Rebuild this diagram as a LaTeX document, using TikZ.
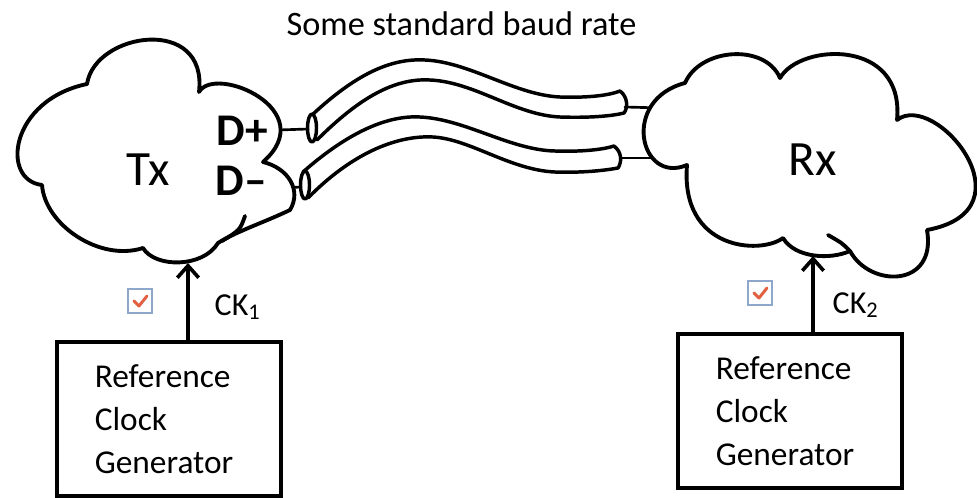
\documentclass[tikz,border=0pt]{standalone}
\usepackage{fontspec}
\setmainfont{Carlito}
\usetikzlibrary{arrows.meta}
\definecolor{chkblue}{HTML}{8EA8CC}
\definecolor{chkred}{HTML}{E2603F}
\tikzset{
  ink/.style={line width=2.9pt,line cap=round,line join=round},
  cloudline/.style={ink,fill=white},
  cable/.style={ink,line width=2.6pt},
  wire/.style={line width=2pt,line cap=round},
  refbox/.style={draw,line width=2.7pt,minimum width=168pt,minimum height=115.5pt,
    inner xsep=0pt,text width=111pt,align=left,font=\fontsize{25}{32.25}\selectfont},
  clk/.style={-{Straight Barb[length=9pt,width=16pt]},line width=2.7pt},
  chkbox/.style={draw=chkblue,fill=white,line width=0.9pt,minimum size=18pt,inner sep=0pt},
  tick/.style={draw=chkred,line width=2.2pt,line cap=round,line join=round},
  lbl/.style={font=\fontsize{24}{28}\selectfont,anchor=base west},
  dlbl/.style={font=\fontsize{34}{38}\selectfont\bfseries,anchor=base west},
}
\begin{document}
\begin{tikzpicture}[x=0.75pt,y=-0.75pt]
\useasboundingbox (0,0) rectangle (977,497);

% wire ends
\coordinate (dpin) at (278,130);  \coordinate (dpend) at (308,129);
\coordinate (dmin) at (285,188);  \coordinate (dmend) at (300,187);
\coordinate (rpin) at (625,107);  \coordinate (rpend) at (662,108);
\coordinate (rmin) at (620,158);  \coordinate (rmend) at (660,158);
\draw[wire] (dpin) -- (dpend);
\draw[wire] (dmin) -- (dmend);
\draw[wire] (rpin) -- (rpend);
\draw[wire] (rmin) -- (rmend);

% the two cables
\draw[cable] (312,115) .. controls (355,75) and (390,58) .. (425,60)
  .. controls (470,62) and (515,95) .. (560,97)
  .. controls (590,98) and (610,95) .. (620,91)
  .. controls (628,97) and (628,108) .. (624,113)
  .. controls (612,116) and (590,118) .. (560,117)
  .. controls (515,115) and (475,82) .. (430,80)
  .. controls (395,78) and (360,97) .. (317,140);
\draw[cable] (303,172) .. controls (345,135) and (385,115) .. (420,117)
  .. controls (465,119) and (510,150) .. (555,151)
  .. controls (585,152) and (605,149) .. (614,146)
  .. controls (622,152) and (622,162) .. (618,168)
  .. controls (607,170) and (585,173) .. (555,172)
  .. controls (510,170) and (470,139) .. (433,137)
  .. controls (395,135) and (350,155) .. (308,198);
\draw[cable] (312,128) ellipse [x radius=4.5,y radius=14];
\draw[cable] (305,185) ellipse [x radius=4.5,y radius=14];

% Tx cloud
\draw[cloudline] (87,84) .. controls (95,32) and (208,15) .. (199,92)
  .. controls (215,64) and (322,110) .. (263,162)
  .. controls (288,168) and (302,190) .. (290,210)
  .. controls (265,222) and (235,232) .. (218,243)
  .. controls (203,268) and (155,268) .. (143,248)
  .. controls (100,262) and (45,225) .. (42,185)
  .. controls (0,180) and (10,100) .. (87,84) -- cycle;
\draw[ink] (245,216) .. controls (240,230) .. (222,241);

% Rx cloud
\draw[cloudline] (685,83) .. controls (700,48) and (765,43) .. (780,78)
  .. controls (800,43) and (905,38) .. (897,120)
  .. controls (935,90) and (1035,210) .. (927,230)
  .. controls (937,288) and (870,288) .. (850,251)
  .. controls (830,260) and (795,258) .. (783,238)
  .. controls (760,255) and (680,250) .. (687,165)
  .. controls (640,185) and (620,100) .. (685,83) -- cycle;
\draw[ink] (850,251) .. controls (842,243) .. (828,235);

\node[font=\fontsize{25.7}{30}\selectfont,anchor=base] (baud) at (461.5,35) {Some standard baud rate};
\node[font=\fontsize{37}{40}\selectfont,anchor=base] (tx) at (148,185) {Tx};
\node[font=\fontsize{37}{40}\selectfont,anchor=base] (rx) at (813,175) {Rx};
\node[dlbl] (dplus) at (212,145) {D+};
\node[dlbl] (dminus) at (211,195) {D–};

% reference clocks
\node[refbox,anchor=north west] (refL) at (55,340) {Reference\\Clock\\Generator};
\node[refbox,anchor=north west] (refR) at (676,332) {Reference\\Clock\\Generator};
\coordinate (txfoot) at (188,263);
\coordinate (rxfoot) at (813,256);
\draw[clk] (refL.north -| txfoot) -- (txfoot);
\draw[clk] (refR.north -| rxfoot) -- (rxfoot);
\node[lbl] (ck1) at (210,315) {CK\textsubscript{1}};
\node[lbl] (ck2) at (828,313) {CK\textsubscript{2}};

\node[chkbox] (chkL) at (140,301) {};
\node[chkbox] (chkR) at (760,293) {};
\foreach \c in {chkL,chkR}
  \draw[tick] ([shift={(-6,0)}]\c.center) -- ([shift={(-1,5)}]\c.center) -- ([shift={(7,-5)}]\c.center);
\end{tikzpicture}
\end{document}
